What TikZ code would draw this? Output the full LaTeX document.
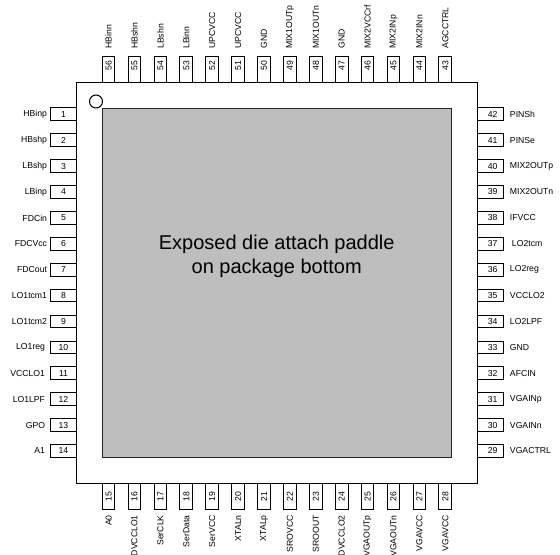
\documentclass[tikz,border=0pt]{standalone}
\usepackage{fontspec}
\setmainfont{Liberation Sans}
\definecolor{padgray}{HTML}{BEBEBE}
\tikzset{
  pinbox/.style={draw=black,line width=.75pt,fill=white,minimum width=19.5pt,minimum height=9.5pt,inner sep=0pt,font=\fontsize{6.5pt}{7pt}\selectfont},
  pinlabel/.style={inner sep=0pt,font=\fontsize{6.5pt}{7pt}\selectfont},
  packagebody/.style={draw=black,line width=.75pt,fill=white},
  paddle/.style={draw=black!85,line width=.75pt,fill=padgray,inner sep=0pt},
  paddletext/.style={align=center,font=\fontsize{15pt}{17.8pt}\selectfont}
}
\begin{document}
\begin{tikzpicture}[x=.75pt,y=-.75pt]
\useasboundingbox (0,0) rectangle (560,554);
\fill[white] (0,0) rectangle (560,554);
\clip (0,0) rectangle (560,554);
\foreach \n/\t [count=\i from 0] in {1/HBinp,2/HBshp,3/LBshp,4/LBinp,5/FDCin,6/FDCVcc,7/FDCout,8/LO1tcm1,9/LO1tcm2,10/LO1reg,11/VCCLO1,12/LO1LPF,13/GPO,14/A1}{
  \node[pinbox] (p\n) at (63.5,{114.3+25.9*\i}) {\n\hspace{6pt}};
  \node[pinlabel,anchor=east] (l\n) at ({\i<9 ? 47.3 : 45.3},{114.3+25.9*\i}) {\t};
}
\foreach \n/\t [count=\i from 0] in {42/PINSh,41/PINSe,40/MIX2OUTp,39/MIX2OUTn,38/IFVCC,37/LO2tcm,36/LO2reg,35/VCCLO2,34/LO2LPF,33/GND,32/AFCIN,31/VGAINp,30/VGAINn,29/VGACTRL}{
  \node[pinbox] (p\n) at (490,{114.3+25.9*\i}) {\hspace{4pt}\n};
  \node[pinlabel,anchor=west] (l\n) at ({\n==37 ? 511.7 : 509.7},{114.3+25.9*\i}) {\t};
}
\foreach \n/\t [count=\i from 0] in {56/HBinn,55/HBshn,54/LBshn,53/LBinn,52/UPCVCC,51/UPCVCC,50/GND,49/MIX1OUTp,48/MIX1OUTn,47/GND,46/MIX2VCCrf,45/MIX2INp,44/MIX2INn,43/AGCCTRL}{
  \node[pinbox,rotate=90] (p\n) at ({108.6+25.9*\i},69) {\hspace{5pt}\n};
  \node[pinlabel,anchor=west,rotate=90] (l\n) at ({108.6+25.9*\i},49) {\t};
}
\foreach \n/\t [count=\i from 0] in {15/A0,16/DVCCLO1,17/SerCLK,18/SerData,19/SerVCC,20/XTALn,21/XTALp,22/SROVCC,23/SROOUT,24/DVCCLO2,25/VGAOUTp,26/VGAOUTn,27/VGAVCC,28/VGAVCC}{
  \node[pinbox,rotate=90] (p\n) at ({108.6+25.9*\i},496.3) {\n\hspace{2.5pt}};
  \node[pinlabel,anchor=east,rotate=90] (l\n) at ({108.6+25.9*\i},515) {\t};
}
\draw[packagebody] (76.5,82) rectangle (477,483.3);
\node[paddle,minimum width=262pt,minimum height=262pt] (pad) at (276.7,282.7) {};
\node[paddletext] (padtext) at (276.7,256) {Exposed die attach paddle\\on package bottom};
\node[draw=black,line width=.75pt,fill=white,circle,minimum size=9.75pt,inner sep=0pt] (dot) at (96,101.5) {};
\end{tikzpicture}
\end{document}
